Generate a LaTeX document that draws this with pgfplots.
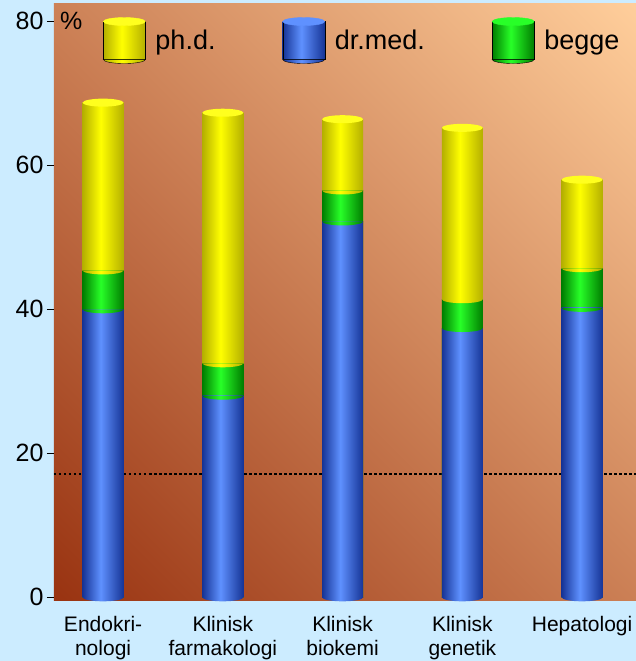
\documentclass[border=0pt]{standalone}
\usepackage{fontspec}
\setmainfont{Liberation Sans}
\usepackage{pgfplots}
\pgfplotsset{compat=1.18}
\usetikzlibrary{backgrounds}

\definecolor{bgblue}{RGB}{204,236,255}
\definecolor{grB}{RGB}{153,51,17}
\definecolor{grT}{RGB}{255,206,155}
\definecolor{yD}{RGB}{180,175,0}
\definecolor{yL}{RGB}{255,255,0}
\definecolor{gD}{RGB}{0,125,0}
\definecolor{gL}{RGB}{40,255,40}
\definecolor{bD}{RGB}{22,52,150}
\definecolor{bL}{RGB}{95,145,255}
\definecolor{capY}{RGB}{255,255,30}

% shadings: the middle 50bp is fitted to the path
\pgfdeclareverticalshading{plotbg}{100bp}{color(0bp)=(grB); color(14.6bp)=(grB); color(85.4bp)=(grT); color(100bp)=(grT)}
\pgfdeclarehorizontalshading{cylY}{100bp}{color(0bp)=(yD); color(25bp)=(yD); color(47bp)=(yL); color(75bp)=(yD); color(100bp)=(yD)}
\pgfdeclarehorizontalshading{cylG}{100bp}{color(0bp)=(gD); color(25bp)=(gD); color(47bp)=(gL); color(75bp)=(gD); color(100bp)=(gD)}
\pgfdeclarehorizontalshading{cylB}{100bp}{color(0bp)=(bD); color(25bp)=(bD); color(47bp)=(bL); color(75bp)=(bD); color(100bp)=(bD)}

% rounded bottom of a cylinder segment, top cap
\pgfdeclareplotmark{botY}{\pgfpathmoveto{\pgfqpoint{-20.5pt}{0pt}}\pgfpatharc{180}{360}{20.5pt and 4pt}\pgfpathclose\pgfshadepath{cylY}{0}\pgfusepath{discard}}
\pgfdeclareplotmark{botG}{\pgfpathmoveto{\pgfqpoint{-20.5pt}{0pt}}\pgfpatharc{180}{360}{20.5pt and 4pt}\pgfpathclose\pgfshadepath{cylG}{0}\pgfusepath{discard}}
\pgfdeclareplotmark{botB}{\pgfpathmoveto{\pgfqpoint{-20.5pt}{0pt}}\pgfpatharc{180}{360}{20.5pt and 4pt}\pgfpathclose\pgfshadepath{cylB}{0}\pgfusepath{discard}}
\pgfdeclareplotmark{cap}{\pgfpathellipse{\pgfpointorigin}{\pgfqpoint{20.5pt}{0pt}}{\pgfqpoint{0pt}{4pt}}\pgfusepath{fill}}

\pgfplotsset{
    cyl/.style = {ybar, bar width=41pt, bar shift=0pt, draw=none, shade, shading=#1, forget plot},
    seg/.style = {only marks, mark=#1, forget plot},
    legcyl/.style n args={2}{legend image code/.code={
        \shade[shading=#1] (0pt,-19pt) rectangle (42pt,19pt);
        \shade[shading=#1] (0pt,-19pt) arc[start angle=180, end angle=360, x radius=21pt, y radius=4pt] -- cycle;
        \fill[#2] (21pt,19pt) ellipse[x radius=21pt, y radius=4pt];
    }},
}

\begin{document}
\begin{tikzpicture}[show background rectangle, inner frame sep=0pt,
    background rectangle/.style={fill=bgblue, draw=none}]
\begin{axis}[
    scale only axis,
    width=582pt, height=596.7pt,
    xmin=-0.41, xmax=4.45,
    ymin=-0.47, ymax=82.4,
    clip=false,
    axis background/.style={shade, shading=plotbg, shading angle=-45},
    axis line style={draw=none},
    xtick={0,1,2,3,4},
    xticklabels={{Endokri-\\nologi},{Klinisk\\farmakologi},{Klinisk\\biokemi},{Klinisk\\genetik},{Hepatologi}},
    xtick style={draw=none},
    xticklabel style={font=\fontsize{21}{24}\selectfont, align=center, yshift=-5pt},
    ytick={0,20,40,60,80},
    ytick pos=left,
    tick align=outside,
    major tick length=7pt,
    ytick style={black, line width=0.8pt},
    /pgf/number format/assume math mode=true,
    yticklabel style={font=\fontsize{25}{25}\selectfont},
    legend columns=3,
    legend style={at={(0.084,0.978)}, anchor=north west, draw=none, fill=none,
        inner sep=0pt, font=\fontsize{27}{27}\selectfont,
        /tikz/every odd column/.style={column sep=8pt},
        /tikz/every even column/.style={column sep=65pt}},
]
% dotted reference line
\addplot[forget plot, black, line width=2.2pt, dash pattern=on 2.5pt off 2.5pt]
    coordinates {(-0.41,17.1) (4.45,17.1)};

% each bar: whole height (ph.d. on top), dr.med.+begge, dr.med.
\addplot[cyl=cylY] coordinates {(0,68.7)};
\addplot[cyl=cylY] coordinates {(1,67.3)};
\addplot[cyl=cylY] coordinates {(2,66.4)};
\addplot[cyl=cylY] coordinates {(3,65.2)};
\addplot[cyl=cylY] coordinates {(4,58.0)};
\addplot[cyl=cylG] coordinates {(0,45.4)};
\addplot[cyl=cylG] coordinates {(1,32.5)};
\addplot[cyl=cylG] coordinates {(2,56.5)};
\addplot[cyl=cylG] coordinates {(3,41.4)};
\addplot[cyl=cylG] coordinates {(4,45.7)};
\addplot[cyl=cylB] coordinates {(0,40.0)};
\addplot[cyl=cylB] coordinates {(1,28.0)};
\addplot[cyl=cylB] coordinates {(2,52.2)};
\addplot[cyl=cylB] coordinates {(3,37.4)};
\addplot[cyl=cylB] coordinates {(4,40.2)};

% rounded bottoms of the segments and the top caps
\addplot[seg=botB] coordinates {(0,0) (1,0) (2,0) (3,0) (4,0)};
\addplot[seg=botG] coordinates {(0,40.0) (1,28.0) (2,52.2) (3,37.4) (4,40.2)};
\addplot[seg=botY] coordinates {(0,45.4) (1,32.5) (2,56.5) (3,41.4) (4,45.7)};
\addplot[seg=cap, mark options={fill=capY, draw=none}] coordinates {(0,68.7) (1,67.3) (2,66.4) (3,65.2) (4,58.0)};

\addlegendimage{legcyl={cylY}{capY}}
\addlegendentry{ph.d.}
\addlegendimage{legcyl={cylB}{bL}}
\addlegendentry{dr.med.}
\addlegendimage{legcyl={cylG}{gL}}
\addlegendentry{begge}
\end{axis}
\node[anchor=north west, inner sep=0pt, font=\fontsize{25}{25}\selectfont]
    at ([xshift=6pt,yshift=-8pt]current axis.north west) {\%};
\pgfresetboundingbox
\path[use as bounding box] ([xshift=-54pt,yshift=-60.3pt]current axis.south west)
    rectangle ([yshift=4pt]current axis.north east);
\end{tikzpicture}
\end{document}
